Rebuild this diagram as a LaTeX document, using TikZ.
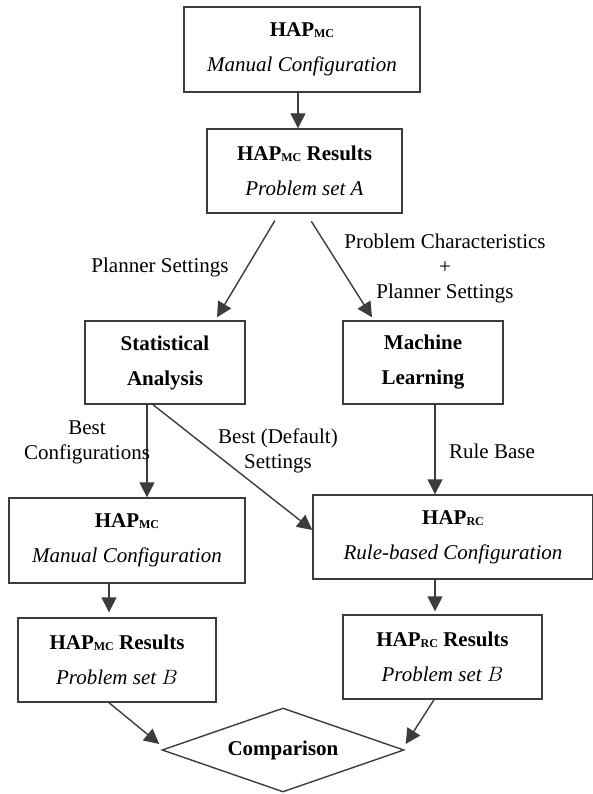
\documentclass[tikz,border=0pt]{standalone}
\usepackage{fontspec}
\setmainfont{Liberation Serif}
\usepackage{tikz}
\usepackage{xcolor}
\usetikzlibrary{arrows.meta,shapes.geometric}
\definecolor{linegray}{HTML}{3C3C3C}
\newcommand{\subsc}[1]{{\fontsize{12}{12}\selectfont\raisebox{-1pt}{#1}}}
\tikzset{boxed/.style={rectangle, draw=linegray, line width=1.4pt, inner sep=0pt, align=center, font=\fontsize{21}{35}\selectfont}}
\tikzset{decision/.style={diamond, draw=linegray, line width=1.4pt, inner sep=0pt, aspect=3, minimum width=242pt, minimum height=84pt, font=\fontsize{21}{25}\selectfont}}
\tikzset{note/.style={align=center, inner sep=0pt, font=\fontsize{21}{25}\selectfont}}
\tikzset{arrow/.style={-{Triangle[length=15pt,width=15pt]}, draw=linegray, line width=1.4pt}}

\begin{document}
\begin{tikzpicture}[x=1pt, y=-1pt]
  \useasboundingbox (0,0) rectangle (592,794);

  \node[boxed, minimum width=236pt, minimum height=85pt] (mc) at (302,49.5) {\textbf{HAP\subsc{MC}}\\\textit{Manual Configuration}};
  \node[boxed, minimum width=195pt, minimum height=84pt] (mcA) at (304.5,171) {\textbf{HAP\subsc{MC} Results}\\\textit{Problem set A}};

  \node[boxed, minimum width=160pt, minimum height=83pt] (stat) at (165,362.5) {\textbf{Statistical}\\\textbf{Analysis}};
  \node[boxed, minimum width=160pt, minimum height=83pt] (ml) at (423,362.5) {\textbf{Machine}\\\textbf{Learning}};

  \node[boxed, minimum width=236pt, minimum height=85pt] (mcB) at (127,540.5) {\textbf{HAP\subsc{MC}}\\\textit{Manual Configuration}};
  \node[boxed, minimum width=280pt, minimum height=84pt] (rc) at (453,537) {\textbf{HAP\subsc{RC}}\\\textit{Rule-based Configuration}};

  \node[boxed, minimum width=198pt, minimum height=84pt] (mcRes) at (117,660) {\textbf{HAP\subsc{MC} Results}\\\textit{Problem set $B$}};
  \node[boxed, minimum width=199pt, minimum height=84pt] (rcRes) at (442.5,657) {\textbf{HAP\subsc{RC} Results}\\\textit{Problem set $B$}};

  \node[decision] (cmp) at (283,750) {\textbf{Comparison}};

  \draw[arrow] ([xshift=-4pt]mc.south) -- ([xshift=-4pt]mc.south |- mcA.north);
  \draw[arrow, shorten <=8pt] ([xshift=-25.5pt]mcA.south) -- ([xshift=52pt,yshift=3pt]stat.north);
  \draw[arrow, shorten <=9pt] ([xshift=2pt]mcA.south) -- ([xshift=-51pt,yshift=3pt]ml.north);

  \draw[arrow] ([xshift=-18pt]stat.south) -- ([xshift=-18pt]stat.south |- mcB.north);
  \draw[arrow] ([xshift=-12pt]stat.south) -- ([yshift=7pt]rc.west);
  \draw[arrow] ([xshift=12pt]ml.south) -- ([xshift=12pt]ml.south |- rc.north);

  \draw[arrow, shorten >=5pt] ([xshift=-18pt]mcB.south) -- ([xshift=-18pt]mcB.south |- mcRes.north);
  \draw[arrow, shorten >=3pt] ([xshift=-18pt]rc.south) -- ([xshift=-18pt]rc.south |- rcRes.north);

  \draw[arrow] ([xshift=-8pt]mcRes.south) -- ([xshift=-2pt,yshift=6pt]cmp.west);
  \draw[arrow] ([xshift=-8.5pt]rcRes.south) -- ([xshift=1pt,yshift=6pt]cmp.east);

  \node[note] (ps) at (160,267) {Planner Settings};
  \node[note] (pc) at (445,268) {Problem Characteristics\\+\\Planner Settings};
  \node[note] (bc) at (87,442.5) {Best\\Configurations};
  \node[note] (bd) at (278,450.5) {Best (Default)\\Settings};
  \node[note] (rb) at (492,451) {Rule Base};

\end{tikzpicture}
\end{document}
